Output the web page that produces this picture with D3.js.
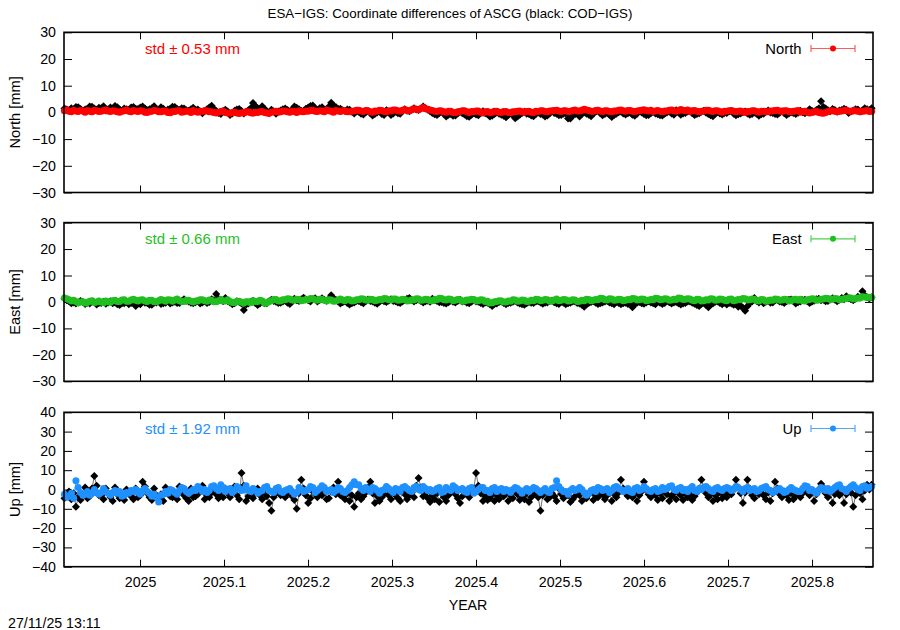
<!DOCTYPE html>
<html>
<head>
<meta charset="utf-8">
<script src="https://cdn.jsdelivr.net/npm/d3@7"></script>
<style>
  html, body { margin: 0; padding: 0; background: #fff; }
  svg { display: block; font-family: "Liberation Sans", Arial, sans-serif; }
</style>
</head>
<body>
<svg id="chart" width="900" height="630"></svg>
<script>
// ---- data ----
const titleText = "ESA\u2212IGS: Coordinate differences of ASCG (black: COD\u2212IGS)";
const timestamp = "27/11/25 13:11";
const startYear = 2024.910;      // first daily epoch (decimal year)
const stepDays = 1;              // daily solutions

const xTickValues = [2025, 2025.1, 2025.2, 2025.3, 2025.4, 2025.5, 2025.6, 2025.7, 2025.8];
const xTickLabels = ["2025", "2025.1", "2025.2", "2025.3", "2025.4", "2025.5", "2025.6", "2025.7", "2025.8"];
const yTicksNE = [-30, -20, -10, 0, 10, 20, 30];
const yTicksUp = [-40, -30, -20, -10, 0, 10, 20, 30, 40];

const componentNames = ["North", "East", "Up"];
const stdValues = ["0.53", "0.66", "1.92"];

const northESA = [
0.6,0.9,0.4,0.2,0.8,0.5,0.3,0.7,0.5,0.1,0.7,0.4,0.2,0.8,0.6,0.3,
0.4,0.7,0.9,0.5,0.3,0.6,0.5,0.2,0.1,0.4,0.6,0.9,0.4,0.2,0.7,0.5,
0.3,0.6,0.5,0.1,0.0,0.3,0.4,0.7,0.6,0.2,0.2,0.5,0.5,0.0,-0.1,0.3,
0.3,0.6,0.6,0.1,0.2,0.5,0.4,0.0,0.7,0.3,0.1,0.4,0.3,0.7,0.5,0.2,
0.2,0.0,-0.2,0.1,0.3,0.5,0.0,-0.2,-0.3,0.0,0.1,-0.2,-0.4,-0.1,-0.1,0.2,
0.2,-0.1,-0.3,0.1,0.0,0.2,0.3,0.0,-0.2,-0.3,0.1,0.2,0.4,0.1,0.2,0.5,
0.5,0.2,0.1,0.4,0.3,0.0,0.6,0.3,0.2,0.5,0.4,0.7,0.8,0.4,0.3,0.6,
0.5,0.2,0.9,0.6,0.4,0.1,0.7,0.5,0.3,0.6,0.6,0.2,0.2,0.4,0.5,0.8,
0.8,0.5,0.3,0.7,0.6,0.2,0.1,0.5,0.4,0.8,0.7,0.3,0.2,0.6,0.5,0.9,
0.9,0.6,0.4,0.8,1.1,0.7,0.6,1.0,1.4,1.2,1.0,1.5,1.8,1.4,1.2,0.9,
0.7,0.4,0.3,0.6,0.5,0.2,0.1,0.4,0.4,0.0,-0.1,0.2,0.3,0.6,0.6,0.2,
0.0,0.3,0.2,0.5,0.5,0.1,-0.2,0.2,0.3,0.0,0.1,0.4,0.4,0.1,0.0,0.3,
0.3,0.0,-0.1,0.2,0.2,0.4,0.5,0.2,0.1,0.3,0.4,0.1,0.0,0.4,0.3,0.6,
0.6,0.3,0.2,0.5,0.5,0.7,0.8,0.5,0.3,0.6,0.6,0.3,0.4,0.7,0.9,0.5,
0.5,0.8,1.2,0.9,0.7,0.4,0.4,0.7,0.8,0.5,0.3,0.6,0.6,0.3,0.2,0.5,
0.5,0.8,0.9,0.6,0.4,0.7,0.7,0.4,0.3,0.5,0.6,0.8,1.0,0.7,0.5,0.8,
0.3,0.5,0.7,0.4,0.2,0.5,0.5,0.8,0.9,0.6,0.4,0.7,1.1,0.8,0.6,0.9,
0.3,0.6,0.7,0.4,0.2,0.4,0.5,0.8,0.8,0.5,0.3,0.6,0.6,0.3,0.1,0.4,
0.4,0.6,0.7,0.4,0.2,0.4,0.5,0.2,0.0,0.3,0.3,0.6,0.6,0.3,0.1,0.4,
0.4,0.2,0.2,0.5,0.5,0.7,0.8,0.5,0.3,0.6,0.6,0.3,0.2,0.4,0.5,0.7,
0.1,0.3,0.4,0.1,-0.2,0.0,0.2,0.4,0.0,-0.2,-0.3,0.0,0.3,0.5,0.6,0.4,
0.2,0.4,0.5,0.7,0.8,0.5,0.3,0.6,0.6,0.4,0.2,0.4,0.5,0.7,0.3,0.4];

const northCOD = [
1.5,1.1,0.8,1.6,1.2,2.0,1.9,1.3,0.6,1.1,1.4,2.2,2.1,1.5,1.0,1.7,
1.6,2.3,0.7,1.2,1.8,1.4,2.4,1.9,1.1,0.6,1.5,1.2,0.9,1.8,2.0,1.4,
1.3,1.8,2.2,1.5,0.8,1.2,1.6,2.3,1.0,0.5,1.9,1.4,0.5,1.1,1.4,2.1,
2.0,1.3,0.9,1.6,1.5,0.8,0.6,1.2,1.7,1.0,1.1,0.3,-0.3,0.5,1.2,1.8,
2.5,1.4,0.4,-0.2,-0.6,0.5,1.0,0.3,-1.0,-0.4,0.6,1.1,1.3,0.5,-0.4,0.2,
0.8,1.6,3.5,2.4,1.6,0.9,2.3,1.4,0.2,-0.3,1.0,0.4,-0.5,0.3,0.7,1.2,
1.5,0.9,0.3,1.1,2.2,1.7,1.2,0.5,0.6,1.4,1.8,2.4,2.6,1.5,0.9,1.6,
1.9,1.0,1.2,2.1,3.6,2.5,2.0,1.3,1.4,0.8,0.5,1.1,1.0,0.2,-0.4,0.3,
0.2,-0.5,-0.8,0.1,0.5,-0.3,-1.2,-0.6,0.0,0.4,-0.6,-1.0,0.8,0.1,-1.0,-0.4,
0.3,-0.3,-0.5,0.5,1.2,0.6,0.4,1.0,1.6,1.1,0.9,1.5,2.2,1.6,1.0,0.4,
-0.2,-0.7,-1.0,-0.2,0.3,-0.6,-1.5,-0.9,-0.6,-1.3,-1.2,-0.4,0.2,-0.3,-0.8,-1.4,
-1.6,-0.9,-0.3,-0.8,-1.1,-0.2,0.4,-0.3,-0.7,-1.5,-1.3,-0.6,0.0,-0.5,-0.9,-1.3,
-1.8,-1.0,-0.4,-1.1,-2.2,-1.5,-0.9,-0.2,0.2,-0.5,-0.6,-1.2,-1.4,-0.6,0.0,-0.6,
-0.8,-1.5,-1.2,-0.4,0.4,-0.2,-0.5,-1.1,-1.0,-0.5,-0.3,-2.3,-2.3,-1.2,-0.7,-0.2,
-1.5,-0.6,0.1,-0.5,-0.9,-1.4,-0.4,0.2,0.6,-0.3,-1.1,-0.6,-0.2,-0.9,-1.7,-1.0,
-0.5,0.1,0.3,-0.4,-0.8,-0.3,-0.1,-0.9,-1.3,-0.5,0.5,0.0,-0.6,-1.1,-1.0,-0.3,
0.2,-0.4,-0.7,-1.1,-1.2,-0.5,0.0,0.3,-0.4,-0.9,0.8,0.1,-0.9,-0.4,-0.2,0.3,
0.4,-0.3,-1.0,-0.6,-0.3,0.2,0.6,-0.1,-0.6,-1.1,-1.4,-0.5,0.1,-0.4,-0.8,-0.2,
-0.2,0.3,0.5,-0.5,-1.1,-0.7,-0.4,0.1,0.3,-0.4,-0.9,-0.6,0.0,-0.5,-1.3,-0.7,
-0.5,0.2,0.7,0.0,-0.2,-0.6,-0.8,-0.1,0.4,-0.3,-1.0,-0.4,0.1,-0.2,-0.6,-0.1,
0.6,0.1,-0.3,0.4,1.2,0.6,0.3,0.9,1.5,4.2,2.0,1.5,0.8,0.4,1.3,0.9,
0.2,0.7,0.9,1.4,1.0,-0.2,0.3,0.7,1.2,1.1,0.3,0.8,1.6,1.2,0.9,1.6];

const eastESA = [
1.5,1.2,0.8,0.4,0.6,0.2,-0.3,0.0,0.1,-0.4,-0.2,0.3,0.5,-0.2,0.0,0.4,
0.0,-0.3,0.4,0.1,-0.1,0.5,0.6,0.2,0.2,0.7,0.8,0.3,0.3,0.7,1.0,0.6,
0.4,0.7,0.8,0.4,0.2,0.6,0.6,0.1,0.1,0.5,0.9,0.6,0.3,0.8,0.7,0.3,
0.7,1.1,0.5,0.2,0.2,0.6,0.6,0.3,0.0,0.4,0.4,0.8,0.8,0.5,0.3,0.7,
0.6,0.1,0.1,0.5,0.9,0.4,0.4,0.8,0.2,-0.2,-0.2,0.3,0.3,-0.1,-0.4,0.1,
0.1,-0.3,0.5,0.2,0.2,0.6,0.4,-0.5,-0.3,0.2,0.5,0.9,0.9,0.4,0.4,0.8,
0.8,1.2,1.1,0.7,0.6,1.0,0.9,0.5,0.6,0.9,0.8,1.3,1.2,0.8,0.6,1.0,
1.0,0.6,0.4,0.8,0.7,0.3,0.4,0.7,1.1,0.7,0.5,0.9,0.8,0.4,0.5,0.8,
0.8,1.2,1.1,0.7,0.6,1.0,0.9,0.5,0.6,0.9,0.8,1.3,1.2,0.8,0.7,1.1,
1.1,0.6,0.7,1.0,0.9,0.4,0.5,0.8,0.7,1.2,1.1,0.6,0.7,1.0,0.9,0.5,
0.5,0.9,0.8,1.4,1.3,0.8,0.7,1.1,1.0,0.5,0.6,0.9,0.8,0.3,0.4,0.7,
0.7,1.0,0.9,0.4,0.5,0.8,0.7,0.2,0.3,-0.4,-0.3,0.1,0.2,0.5,0.4,0.0,
0.0,0.4,0.3,0.8,0.7,0.3,0.4,0.7,0.6,0.2,0.3,0.6,0.5,1.0,0.9,0.5,
0.6,0.9,0.8,0.3,0.4,0.7,1.1,0.5,0.6,0.9,0.8,0.4,0.5,0.8,0.7,0.2,
0.3,0.6,0.5,1.0,0.9,0.5,0.6,0.9,0.8,1.4,1.3,0.8,0.7,1.2,1.1,0.6,
0.7,1.0,0.9,0.5,0.6,0.9,0.8,1.3,1.2,0.7,0.8,1.1,1.0,0.5,0.6,0.9,
0.8,1.4,1.3,0.8,0.9,1.2,1.1,0.6,0.7,1.0,0.9,1.5,1.4,0.9,1.0,1.2,
1.1,0.6,0.5,1.0,0.9,0.4,0.5,0.8,0.7,1.2,1.1,0.6,0.7,1.1,1.0,0.6,
0.5,1.0,1.1,0.5,0.6,0.9,0.8,1.3,1.2,0.7,0.8,1.1,1.0,0.5,0.4,0.9,
0.8,0.3,0.4,0.7,0.6,1.1,1.0,0.6,0.7,1.0,0.9,0.4,0.5,0.9,1.0,0.6,
1.0,0.5,0.4,0.8,0.9,1.2,1.1,0.6,0.7,1.0,1.1,1.4,1.3,0.9,1.0,1.3,
1.2,0.8,0.9,1.2,1.3,1.6,1.5,1.1,1.2,1.5,1.6,2.0,1.9,1.7,1.8,1.7];

const eastCOD = [
1.2,0.6,0.3,-0.5,-0.2,-0.6,-0.2,0.4,0.0,-0.8,-0.3,-0.6,0.2,-0.1,-1.0,-0.4,
-0.4,0.1,-0.7,-0.2,0.3,-0.5,-0.2,-0.9,-1.2,-0.5,-0.5,0.0,-0.9,-0.4,-0.3,-1.5,
-0.6,-0.9,0.2,-0.3,-0.4,-1.1,-1.1,-0.2,-0.2,0.5,-0.8,-0.5,-0.3,0.4,-0.6,-0.2,
0.1,-0.4,-0.4,0.3,1.0,0.5,0.2,-0.3,-0.5,-0.1,0.4,-0.6,-0.2,0.3,-0.4,0.0,
1.0,0.6,3.0,1.2,0.8,0.3,1.5,0.4,-0.2,-0.9,-0.5,0.3,0.0,-0.6,-3.0,-1.0,
-0.6,0.1,0.5,-0.4,-1.2,-0.6,0.2,-0.5,-0.5,0.3,0.8,0.4,0.1,-0.4,-0.3,0.2,
0.5,-0.3,-0.8,0.2,1.2,0.6,0.4,1.0,1.6,0.9,0.6,0.2,1.0,1.4,0.2,0.7,
1.4,0.8,0.5,1.1,2.5,1.3,0.8,0.2,-0.6,-0.1,0.3,-0.4,-1.0,-0.5,-0.2,0.4,
0.4,-0.1,-0.5,0.3,0.9,0.4,0.2,-0.3,-0.7,0.1,0.6,0.3,0.0,0.5,1.0,0.4,
0.3,-0.2,-0.4,0.2,0.7,1.2,1.5,0.8,0.2,0.6,0.9,0.4,-0.2,0.3,0.5,0.1,
1.2,0.7,0.4,-0.1,0.0,-0.4,-0.6,-0.1,0.5,0.1,-0.2,0.4,0.8,0.2,0.3,-0.3,
-0.5,0.1,0.6,0.2,0.1,-0.4,-0.8,-0.2,-0.3,-0.9,-1.5,-0.8,-0.6,0.0,0.2,-0.4,
-0.9,-0.4,-0.3,0.1,0.4,-0.2,-0.6,-0.9,-1.1,-0.5,0.0,-0.3,-0.4,0.2,0.3,-0.2,
-0.7,-0.3,-0.2,0.4,0.5,-0.1,-0.5,-0.8,0.1,-0.3,-0.9,-0.5,-0.3,0.2,0.2,-0.4,
-0.6,-1.1,-1.8,-0.9,-0.4,0.0,0.3,-0.3,-0.8,-0.5,-0.2,0.2,0.4,-0.2,-0.5,-0.9,
0.1,-0.4,-0.9,-0.5,-0.3,-0.8,-0.3,-2.0,-1.0,-0.3,0.0,-0.5,-0.7,-0.2,0.3,-0.2,
-0.5,-0.9,0.1,-0.3,-0.8,-0.4,0.4,-0.1,-0.6,-0.2,0.0,-0.5,-1.0,-0.6,-0.4,0.2,
0.2,-0.3,-0.7,-1.2,-1.5,-0.8,-0.3,-1.2,-2.0,-1.0,-0.6,0.1,0.2,-0.4,-0.9,-0.3,
-1.0,-0.4,-0.6,-1.1,-0.8,-1.8,-1.4,-2.2,-3.3,-1.6,-0.5,0.2,1.5,0.4,-0.2,0.5,
-0.5,0.1,0.4,-0.3,-0.2,0.6,0.7,0.2,0.0,-0.4,0.3,0.8,0.9,0.3,-0.6,-0.1,
0.2,0.7,0.8,0.3,-0.4,0.1,0.5,1.0,1.2,0.6,0.8,0.3,0.4,0.9,1.4,0.8,
0.3,0.8,1.5,1.0,2.2,1.4,1.0,0.6,1.2,2.0,1.6,4.0,2.4,1.8,1.3,1.8];

const upESA = [
-2.5,-4.0,-3.5,-2.0,-4.5,4.5,1.0,-1.5,-3.0,-2.5,-1.0,-3.0,-2.0,0.0,-1.5,-2.5,
-1.5,0.5,-1.0,-2.0,-3.0,-1.5,-0.5,-2.0,-1.0,-3.5,-3.0,-1.5,-2.0,-0.5,-1.0,0.0,
-1.5,-2.5,-0.5,0.5,-1.0,-2.0,-3.5,-2.5,-4.0,-6.5,-3.0,-2.5,-1.0,-2.0,0.0,-0.5,
-1.5,-2.5,-0.5,1.0,0.5,-1.0,-2.0,-1.0,0.0,-0.5,1.5,0.5,-1.0,0.0,-1.5,-0.5,
1.5,2.0,0.5,-0.5,2.5,1.0,-1.0,0.0,0.5,-1.5,-0.5,1.5,0.5,-0.5,0.0,2.0,
-0.5,-1.0,0.5,-0.5,-2.0,-1.0,-0.5,1.0,1.5,-0.5,-1.0,-1.5,0.5,1.0,-1.0,-1.5,
-0.5,0.0,0.5,-1.0,-2.5,-1.5,1.0,0.0,-1.0,-0.5,0.0,1.5,1.0,-1.5,-0.5,0.5,
2.0,1.0,-1.0,-0.5,0.0,-1.5,-0.5,1.0,0.5,-1.0,-1.5,-0.5,1.0,2.5,4.0,2.5,
2.5,0.5,-0.5,1.0,0.0,-1.0,1.0,0.5,-0.5,-2.0,-0.5,0.0,1.5,0.5,-0.5,-1.5,
0.5,0.0,-1.0,1.0,1.5,0.5,-0.5,-1.0,1.0,1.5,0.0,-0.5,1.5,0.5,-0.5,0.0,
-1.0,-0.5,0.5,1.0,-1.5,-1.0,1.0,0.0,-0.5,2.0,1.0,-0.5,0.0,0.5,-1.0,-1.5,
0.5,1.0,-2.0,-1.0,0.0,1.0,1.0,-0.5,-0.5,-1.5,0.5,1.0,-1.0,0.0,0.5,-1.0,
0.0,-0.5,-1.5,0.0,1.0,0.5,-0.5,-2.0,-0.5,0.5,-1.0,0.0,1.0,0.5,-0.5,-1.5,
-0.5,0.5,-1.0,-1.5,0.5,1.0,4.5,1.5,0.0,-1.0,-1.0,-2.5,-0.5,0.5,-0.5,0.0,
1.0,0.0,-1.5,-3.0,-2.0,-0.5,0.0,-1.0,1.0,0.5,-0.5,0.0,0.5,-1.5,-0.5,1.0,
1.5,0.5,0.0,-1.0,-0.5,0.5,-1.0,-1.5,0.5,1.0,-0.5,0.0,1.5,0.5,-0.5,-1.0,
0.0,0.5,-1.0,-0.5,1.0,0.0,0.5,1.5,2.0,0.0,-0.5,0.5,1.0,-0.5,0.0,-1.0,
0.5,1.5,-0.5,-1.0,0.5,0.0,1.0,1.5,0.5,-0.5,-1.0,0.5,1.0,0.0,-0.5,0.5,
1.0,0.5,-0.5,0.0,1.5,1.0,0.0,-1.0,0.5,1.0,-0.5,0.0,0.5,-1.0,-0.5,0.5,
1.0,1.5,0.0,-0.5,-1.5,-1.0,0.0,0.5,-0.5,-1.5,-1.0,0.0,1.0,0.0,-0.5,-1.0,
-1.0,0.5,2.0,1.5,-0.5,0.0,-1.0,-2.0,-0.5,1.0,0.5,-0.5,0.5,-1.0,0.0,1.0,
2.0,2.5,0.5,0.0,-1.0,0.5,1.5,2.5,1.0,0.0,-0.5,1.5,2.0,0.5,1.0,1.5];

const upCOD = [
-4.5,-3.0,-1.0,-5.0,-2.0,-9.0,-4.0,-5.5,-2.5,1.0,-4.5,-3.5,0.5,7.0,2.0,-3.0,
-3.0,-5.0,0.5,-2.0,-4.0,-6.0,1.0,-2.5,-4.5,-3.0,-5.5,0.0,-2.0,-3.5,-5.0,0.5,
-4.0,-3.0,4.0,1.5,-2.0,-4.0,-5.5,0.5,-3.0,-5.0,-2.5,-6.0,1.0,-2.0,-3.5,-4.0,
-2.0,-5.0,1.5,-1.0,-3.0,-4.5,-6.0,0.5,-4.0,-3.5,-2.5,0.0,2.0,-5.0,-3.0,-4.0,
-1.5,1.0,-2.5,-4.5,-3.0,-4.0,0.5,-2.0,-4.0,-1.0,1.5,-3.0,-5.0,8.5,2.0,-6.0,
-3.5,-1.0,-4.5,-2.0,0.5,-3.0,-5.0,-1.5,-3.5,-7.0,-11.0,-4.0,-2.0,0.0,-3.0,-1.5,
-4.0,-2.0,0.0,-3.5,-5.5,-10.0,-2.0,5.0,0.5,-3.0,-7.0,-4.5,-1.0,-2.5,-4.0,-1.5,
-3.0,0.5,-5.0,-4.5,-1.0,1.0,-2.5,4.0,-3.0,-3.5,-5.0,-2.0,-6.0,-3.0,-9.0,-4.0,
-2.0,-5.0,-3.5,-1.5,1.0,4.0,-2.0,-7.0,-3.5,-6.0,-4.0,-2.5,0.5,-3.0,-5.0,-1.5,
-3.0,-4.5,-6.0,0.5,-2.5,-5.0,-3.0,-1.5,-4.0,2.0,6.0,1.0,-3.5,-2.0,-4.5,-6.5,
-3.0,-5.0,-2.0,-6.5,-1.5,-4.0,-6.0,-3.0,-1.0,0.5,-2.5,-4.5,-7.0,-3.5,-0.5,-2.5,
-4.0,-1.5,0.5,8.5,2.0,-2.0,-6.0,-3.5,-5.5,-4.5,-2.5,-6.0,-3.0,-5.0,-1.5,-3.5,
-2.0,-6.0,-3.0,-4.5,-1.0,-2.5,-5.5,-3.5,-5.0,-2.0,-6.5,-4.0,-2.5,-1.0,-4.0,-11.0,
-3.0,-1.5,-5.0,-4.0,-2.0,-3.5,-6.0,0.5,-2.5,-4.5,-2.0,-3.0,-6.5,-5.0,-3.5,-1.5,
-3.0,-6.0,-2.0,-4.5,-2.5,-1.0,-5.5,-3.0,-4.0,-1.5,-2.5,-5.0,-3.0,-1.0,-6.0,-2.5,
-4.0,-1.5,5.0,0.5,-2.0,-3.5,-1.0,-4.0,-2.5,-6.0,-3.0,-1.0,4.0,0.0,-2.5,-4.0,
-1.5,-3.0,-5.5,-2.0,-4.5,-1.0,-2.5,-6.0,-3.5,-2.0,-5.0,-1.5,-3.0,-5.5,-2.0,-4.0,
-2.5,-5.5,-3.5,-1.5,0.5,5.0,1.0,-2.0,-4.0,-2.5,-6.0,-3.0,-5.0,-1.5,-4.5,-2.5,
-4.0,-1.0,-2.5,0.5,5.0,1.0,-2.0,-7.0,-1.5,5.0,0.5,-3.0,-4.5,-1.0,-2.5,-0.5,
-3.0,-5.0,-1.5,-6.0,-2.0,4.0,0.5,-2.5,-4.0,-1.0,-3.0,-5.5,-2.0,-5.0,-3.5,-1.5,
-4.0,-2.0,0.5,-1.5,-3.0,-1.0,-6.0,-2.5,0.0,3.0,1.0,-2.0,-4.0,-1.0,-7.0,-2.5,
-0.5,-3.0,-1.0,-7.0,-2.5,0.5,-1.5,-9.0,-3.0,0.0,-2.0,-5.0,-0.5,2.5,0.0,2.5];

// ---- layout / style ----
const W = 900, H = 630;
const left = 64, right = 873;
const panelBoxes = [[32.3, 192.5], [222.6, 381.3], [412.3, 566.7]];
const colors = ["#ff0000", "#1fbf1f", "#1e90ff"];
const legendLineColors = ["#ff5a5a", "#4fd04f", "#4aa6ff"];
const fs = 14.2;

const svg = d3.select("#chart");
svg.append("rect").attr("width", W).attr("height", H).attr("fill", "#fff");

const x = d3.scaleLinear().domain([2024.9095, 2025.8726]).range([left, right]);
const dayToYear = 1 / 365.25;

const panels = [
  { name: componentNames[0], std: stdValues[0], esa: northESA, cod: northCOD, ticks: yTicksNE, domain: [-30, 30] },
  { name: componentNames[1], std: stdValues[1], esa: eastESA, cod: eastCOD, ticks: yTicksNE, domain: [-30, 30] },
  { name: componentNames[2], std: stdValues[2], esa: upESA, cod: upCOD, ticks: yTicksUp, domain: [-40, 40] }
];

const fmtY = v => (v < 0 ? "\u2212" + Math.abs(v) : String(v));
const diamond = r => `M0,${-r}L${r},0L0,${r}L${-r},0Z`;

// title
svg.append("text").attr("x", 450).attr("y", 17.5).attr("text-anchor", "middle")
  .attr("font-size", 13.3).attr("fill", "#000").text(titleText);

panels.forEach((p, k) => {
  const [top, bot] = panelBoxes[k];
  const y = d3.scaleLinear().domain(p.domain).range([bot, top]);
  const g = svg.append("g");
  const color = colors[k];

  const yl = d3.axisLeft(y).tickValues(p.ticks).tickFormat(fmtY).tickSizeInner(-8).tickSizeOuter(0).tickPadding(8);
  const yr = d3.axisRight(y).tickValues(p.ticks).tickFormat("").tickSizeInner(-8).tickSizeOuter(0);
  const xb = d3.axisBottom(x).tickValues(xTickValues).tickFormat((d, i) => k === 2 ? xTickLabels[i] : "").tickSizeInner(-7).tickSizeOuter(0).tickPadding(10);
  const xt = d3.axisTop(x).tickValues(xTickValues).tickFormat("").tickSizeInner(-7).tickSizeOuter(0);

  [[yl, `translate(${left},0)`], [yr, `translate(${right},0)`], [xb, `translate(0,${bot})`], [xt, `translate(0,${top})`]]
    .forEach(([ax, tr]) => {
      const a = g.append("g").attr("transform", tr).call(ax);
      a.select(".domain").remove();
      a.selectAll("line").attr("stroke", "#000").attr("stroke-width", 1);
      a.selectAll("text").attr("font-size", fs).attr("font-family", '"Liberation Sans", Arial, sans-serif').attr("fill", "#000");
    });

  const pts = arr => arr.map((v, i) => [startYear + i * stepDays * dayToYear, v]);
  const codPts = pts(p.cod), esaPts = pts(p.esa);
  const line = d3.line().x(d => x(d[0])).y(d => y(d[1]));

  // COD-IGS (black)
  g.append("path").attr("d", line(codPts)).attr("fill", "none").attr("stroke", "#333").attr("stroke-width", 0.7);
  g.append("g").selectAll("path").data(codPts).join("path")
    .attr("d", diamond(4)).attr("transform", d => `translate(${x(d[0])},${y(d[1])})`).attr("fill", "#000");

  // ESA-IGS (colour)
  g.append("path").attr("d", line(esaPts)).attr("fill", "none").attr("stroke", color).attr("stroke-width", 0.7);
  g.append("g").selectAll("circle").data(esaPts).join("circle")
    .attr("cx", d => x(d[0])).attr("cy", d => y(d[1])).attr("r", 3.5).attr("fill", color);

  // frame
  g.append("rect").attr("x", left).attr("y", top).attr("width", right - left).attr("height", bot - top)
    .attr("fill", "none").attr("stroke", "#000").attr("stroke-width", 1.6);

  // y label
  svg.append("text").attr("transform", `translate(19.5,${(top + bot) / 2}) rotate(-90)`)
    .attr("text-anchor", "middle").attr("font-size", 14.6).attr("fill", "#000").text(`${p.name} [mm]`);

  // std text
  const ty = top + 16.2;
  svg.append("text").attr("x", 145).attr("y", ty + 5.2).attr("font-size", 15).attr("fill", color)
    .text(`std \u00b1 ${p.std} mm`);

  // legend
  svg.append("text").attr("x", 801.5).attr("y", ty + 5).attr("text-anchor", "end").attr("font-size", 14.8).attr("fill", "#000").text(p.name);
  const lg = svg.append("g").attr("stroke", legendLineColors[k]).attr("stroke-width", 1.2);
  lg.append("line").attr("x1", 811).attr("x2", 855).attr("y1", ty).attr("y2", ty);
  lg.append("line").attr("x1", 811).attr("x2", 811).attr("y1", ty - 3.5).attr("y2", ty + 3.5);
  lg.append("line").attr("x1", 855).attr("x2", 855).attr("y1", ty - 3.5).attr("y2", ty + 3.5);
  svg.append("circle").attr("cx", 833).attr("cy", ty).attr("r", 3).attr("fill", color);
});

// x label and timestamp
svg.append("text").attr("x", 468).attr("y", 610).attr("text-anchor", "middle").attr("font-size", fs).attr("fill", "#000").text("YEAR");
svg.append("text").attr("x", 8).attr("y", 627.5).attr("font-size", fs).attr("fill", "#000").text(timestamp);
</script>
</body>
</html>
